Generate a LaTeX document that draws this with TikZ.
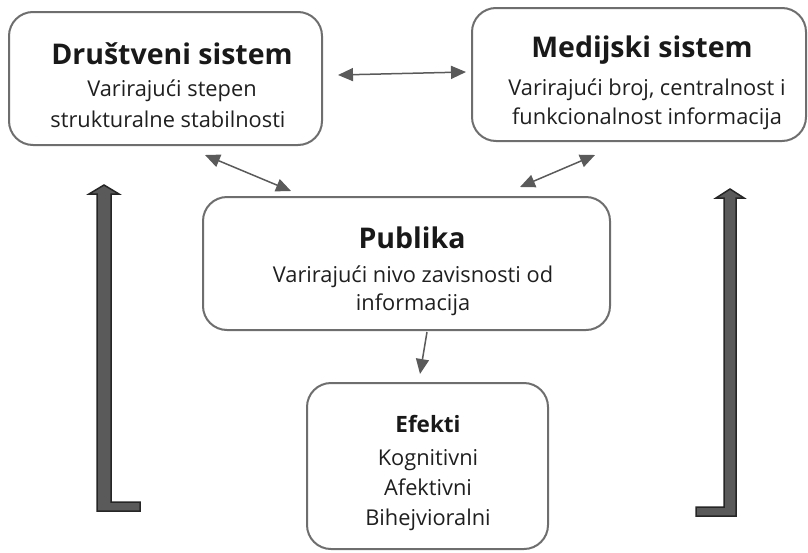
\documentclass[tikz,border=0pt]{standalone}
\usepackage{fontspec}
\setmainfont{Open Sans}
\usetikzlibrary{arrows.meta}
\definecolor{boxline}{HTML}{6E6E6E}
\definecolor{arr}{HTML}{5A5A5A}
\definecolor{thickfill}{HTML}{5A5A5A}
\definecolor{thickline}{HTML}{262626}
\tikzset{
  box/.style={draw=boxline, line width=2pt, rounded corners=24pt, fill=white, inner sep=0pt},
  ttl/.style={anchor=base, font=\fontsize{28.5}{33}\selectfont\bfseries, inner sep=0pt, text=black!90},
  ttlsmall/.style={anchor=base, font=\fontsize{22.5}{26}\selectfont\bfseries, inner sep=0pt, text=black!90},
  txt/.style={anchor=base, font=\fontsize{21.8}{26}\selectfont, inner sep=0pt, text=black!88},
  conn/.style={draw=arr, line width=1.5pt, {Triangle[length=15pt,width=13pt]}-{Triangle[length=15pt,width=13pt]}},
  conn1/.style={draw=arr, line width=1.5pt, -{Triangle[length=15pt,width=13pt]}},
  bigarrow/.style={fill=thickfill, draw=thickline, line width=1.5pt, line join=miter}
}
\begin{document}
\begin{tikzpicture}[x=1pt,y=-1pt]
\useasboundingbox (0,0) rectangle (808,552);
% boxes
\node[box, minimum width=313pt, minimum height=133pt] (soc) at (165.5,78.5) {};
\node[box, minimum width=334pt, minimum height=133pt] (med) at (639,74.5) {};
\node[box, minimum width=407pt, minimum height=133pt] (pub) at (406.5,263.5) {};
\node[box, minimum width=241pt, minimum height=166pt] (eff) at (427.5,466) {};
% texts
\node[ttl] (socT) at (172,64) {Društveni sistem};
\node[txt] (socA) at (172,96) {Varirajući stepen};
\node[txt] (socB) at (168,127) {strukturalne stabilnosti};
\node[ttl] (medT) at (642,57) {Medijski sistem};
\node[txt] (medA) at (647,95) {Varirajući broj, centralnost i};
\node[txt] (medB) at (647,124) {funkcionalnost informacija};
\node[ttl] (pubT) at (412,248) {Publika};
\node[txt] (pubA) at (413,282) {Varirajući nivo zavisnosti od};
\node[txt] (pubB) at (413,310) {informacija};
\node[ttlsmall] (effT) at (428,432) {Efekti};
\node[txt] (effA) at (428,465) {Kognitivni};
\node[txt] (effB) at (428,495) {Afektivni};
\node[txt] (effC) at (428,525) {Bihejvioralni};
% connector endpoints
\coordinate (c1) at (338,75);
\coordinate (c2) at (466,72);
\coordinate (c3) at (205,155);
\coordinate (c4) at (291,191);
\coordinate (c5) at (595,155);
\coordinate (c6) at (520,187);
\coordinate (c7) at (427,332);
\coordinate (c8) at (420,374);
\draw[conn] (c1) -- (c2);
\draw[conn] (c3) -- (c4);
\draw[conn] (c5) -- (c6);
\draw[conn1] (c7) -- (c8);
% thick feedback arrows
\draw[bigarrow] (97,194) -- (89,194) -- (104,185) -- (119,194) -- (111,194) -- (111,502) -- (140,502) -- (140,511) -- (97,511) -- cycle;
\draw[bigarrow] (724,198) -- (716,198) -- (730,189) -- (744,198) -- (736,198) -- (736,516) -- (696,516) -- (696,507) -- (724,507) -- cycle;
\end{tikzpicture}
\end{document}
